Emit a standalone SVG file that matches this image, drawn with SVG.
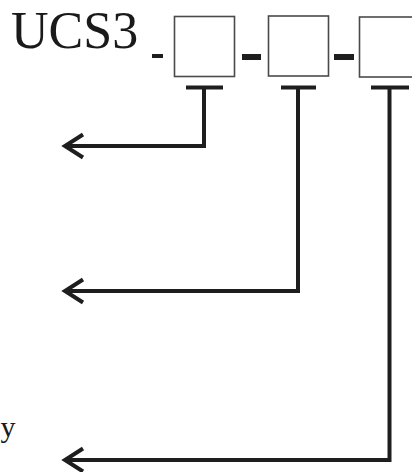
<svg xmlns="http://www.w3.org/2000/svg" width="412" height="472" viewBox="0 0 412 472">
<style>
.lbl{font-family:"Liberation Serif","Times New Roman",serif;fill:#1a1a1a}
.box{fill:#fff;stroke:#4a4a4a;stroke-width:1.6}
.dash{fill:#1e1e1e}
.bar{fill:#1e1e1e}
.conn{fill:none;stroke:#1e1e1e;stroke-width:4;stroke-linejoin:miter}
</style>
<defs>
<marker id="ah" markerUnits="userSpaceOnUse" orient="auto" refX="0" refY="0" markerWidth="40" markerHeight="40" viewBox="-25 -20 40 40" overflow="visible">
<path d="M-18,-11.5 L0,0 L-18,11.5" fill="none" stroke="#1e1e1e" stroke-width="4" stroke-linejoin="miter"/>
</marker>
</defs>
<rect width="412" height="472" fill="#fff"/>
<g id="title">
<text class="lbl" x="11" y="48" font-size="52">UCS3</text>
</g>
<g id="sep1"><rect class="dash" x="152" y="54" width="11" height="4"/></g>
<g id="field1">
<rect class="box" x="174.5" y="16.5" width="60" height="60"/>
<rect class="bar" x="186" y="85.5" width="37" height="4"/>
</g>
<g id="sep2"><rect class="dash" x="242" y="54" width="19" height="6"/></g>
<g id="field2">
<rect class="box" x="268.5" y="16" width="60" height="60"/>
<rect class="bar" x="281" y="85.5" width="35" height="4"/>
</g>
<g id="sep3"><rect class="dash" x="334" y="54" width="20" height="6"/></g>
<g id="field3">
<rect class="box" x="359.5" y="17" width="60" height="60"/>
<rect class="bar" x="371" y="85.5" width="38" height="4"/>
</g>
<g id="label3">
<text class="lbl" x="0.5" y="437" font-size="30">y</text>
</g>
<g id="connectors">
<path class="conn" d="M204,89 V146 H65" marker-end="url(#ah)"/>
<path class="conn" d="M298,89 V291 H65" marker-end="url(#ah)"/>
<path class="conn" d="M389.5,89 V460 H65" marker-end="url(#ah)"/>
</g>
</svg>
